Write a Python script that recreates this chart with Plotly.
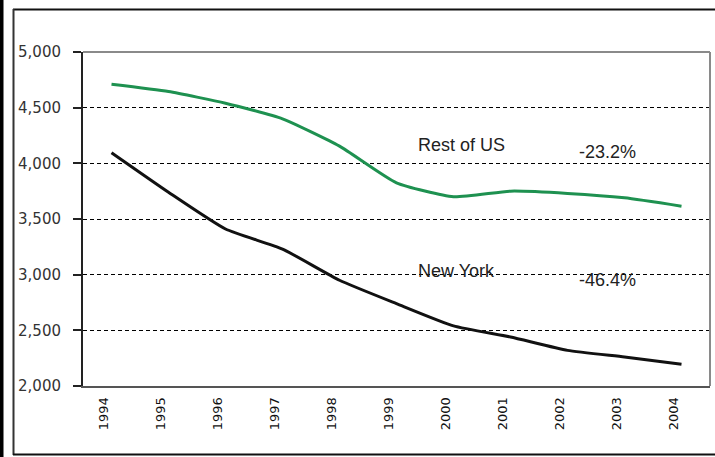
import plotly.graph_objects as go

years = ["1994", "1995", "1996", "1997", "1998", "1999", "2000", "2001", "2002", "2003", "2004"]
rest_of_us = [4710, 4645, 4540, 4400, 4155, 3825, 3700, 3750, 3730, 3690, 3615]
new_york = [4095, 3740, 3410, 3230, 2950, 2740, 2540, 2440, 2320, 2260, 2195]
y_ticks = [2000, 2500, 3000, 3500, 4000, 4500, 5000]
y_tick_labels = ["2,000", "2,500", "3,000", "3,500", "4,000", "4,500", "5,000"]
label_rest = "Rest of US"
label_ny = "New York"
change_rest = "-23.2%"
change_ny = "-46.4%"

W, H = 715, 457
L, R, T, B = 83, 710, 52, 386


def px(x):
    return (x - L) / (R - L)


def py(y):
    return (B - y) / (B - T)


fig = go.Figure()
fig.add_trace(go.Scatter(x=years, y=rest_of_us, mode="lines", name=label_rest,
                         line=dict(color="#1e9150", width=3, shape="spline", smoothing=0.5)))
fig.add_trace(go.Scatter(x=years, y=new_york, mode="lines", name=label_ny,
                         line=dict(color="#111111", width=3, shape="spline", smoothing=0.5)))

ann_font = dict(family="Liberation Sans, Arial, sans-serif", size=18, color="#222222")
fig.add_annotation(x=px(461), y=py(133), xref="paper", yref="paper", text=label_rest,
                   showarrow=False, font=ann_font)
fig.add_annotation(x=px(638), y=py(140), xref="paper", yref="paper", text=change_rest,
                   showarrow=False, font=ann_font)
fig.add_annotation(x=px(456), y=py(283), xref="paper", yref="paper", text=label_ny,
                   showarrow=False, font=ann_font)
fig.add_annotation(x=px(638), y=py(292), xref="paper", yref="paper", text=change_ny,
                   showarrow=False, font=ann_font)

shapes = [
    # page-edge black bar
    dict(type="rect", xref="paper", yref="paper", x0=px(0), x1=px(3.5), y0=py(H), y1=py(0),
         fillcolor="#000000", line=dict(width=0), layer="above"),
    # outer frame
    dict(type="line", xref="paper", yref="paper", x0=px(13), x1=px(W), y0=py(9.5), y1=py(9.5),
         line=dict(color="#111111", width=2)),
    dict(type="line", xref="paper", yref="paper", x0=px(13.5), x1=px(13.5), y0=py(9), y1=py(455),
         line=dict(color="#333333", width=2)),
    dict(type="line", xref="paper", yref="paper", x0=px(13), x1=px(W), y0=py(454.5), y1=py(454.5),
         line=dict(color="#111111", width=2)),
    # plot right/top border
    dict(type="line", xref="paper", yref="paper", x0=1, x1=1, y0=0, y1=1,
         line=dict(color="#8a8a8a", width=2)),
    dict(type="line", xref="paper", yref="paper", x0=0, x1=1, y0=1, y1=1,
         line=dict(color="#8a8a8a", width=2)),
]

fig.update_layout(
    width=W, height=H, autosize=False,
    margin=dict(l=L, r=W - R, t=T, b=H - B, pad=0),
    paper_bgcolor="#ffffff", plot_bgcolor="#ffffff",
    showlegend=False,
    shapes=shapes,
    xaxis=dict(
        type="category", range=[-0.5, 10.5],
        showgrid=False, zeroline=False,
        showline=True, linecolor="#555555", linewidth=2,
        ticks="", tickangle=-90,
        tickfont=dict(family="DejaVu Sans, Verdana, sans-serif", size=13, color="#111111"),
        ticklabelstandoff=4, ticklabelshift=-8,
    ),
    yaxis=dict(
        range=[2000, 5000], tickvals=y_ticks, ticktext=y_tick_labels,
        showgrid=True, gridcolor="#000000", gridwidth=1, griddash="4px,3px",
        zeroline=False,
        showline=True, linecolor="#222222", linewidth=2,
        ticks="outside", ticklen=8, tickwidth=1.5, tickcolor="#222222",
        tickfont=dict(family="DejaVu Sans, Verdana, sans-serif", size=15, color="#333333"),
        ticklabelstandoff=9,
    ),
)

fig.write_html(
    "out.html",
    config={"displayModeBar": False},
    post_script="document.body.style.margin='0';document.body.style.padding='0';"
                "document.body.style.overflow='hidden';",
)
